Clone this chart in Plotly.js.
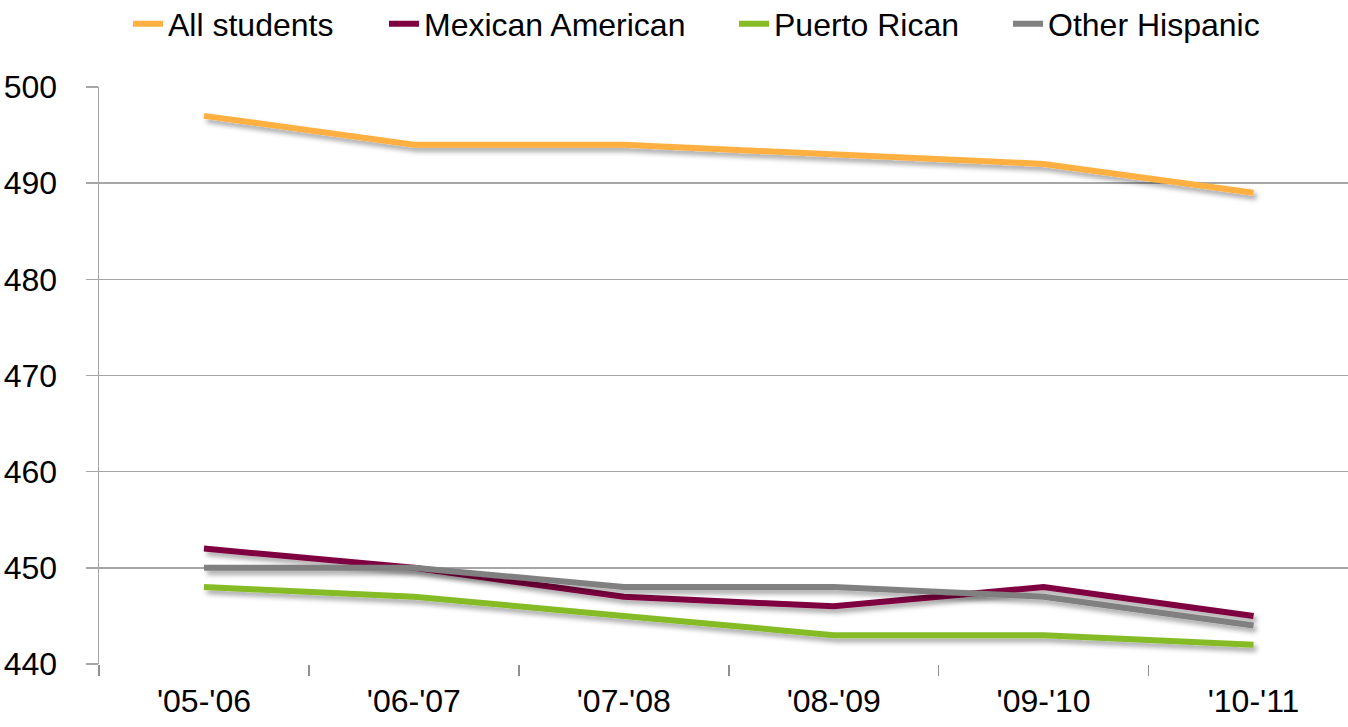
<!DOCTYPE html>
<html>
<head>
<meta charset="utf-8">
<script src="https://cdn.plot.ly/plotly-3.0.1.min.js"></script>
<style>
html, body { margin: 0; padding: 0; background: #fff; }
#chart { width: 1348px; height: 727px; }
</style>
</head>
<body>
<div id="chart"></div>
<script>
const years = ["'05-'06", "'06-'07", "'07-'08", "'08-'09", "'09-'10", "'10-'11"];
const seriesNames = ['All students', 'Mexican American', 'Puerto Rican', 'Other Hispanic'];
const allStudents = [497, 494, 494, 493, 492, 489];
const mexicanAmerican = [452, 450, 447, 446, 448, 445];
const puertoRican = [448, 447, 445, 443, 443, 442];
const otherHispanic = [450, 450, 448, 448, 447, 444];
const yTicks = [440, 450, 460, 470, 480, 490, 500];

const FONT = '"Liberation Sans", Arial, sans-serif';
const W = 1348, H = 727;

function series(name, y, color, legendId) {
  return {
    type: 'scatter', mode: 'lines', name: name, x: years, y: y,
    line: { color: color, width: 6 }, legend: legendId
  };
}

const data = [
  series(seriesNames[0], allStudents, '#FFB041', 'legend'),
  series(seriesNames[1], mexicanAmerican, '#7F0040', 'legend2'),
  series(seriesNames[2], puertoRican, '#85BC26', 'legend3'),
  series(seriesNames[3], otherHispanic, '#808080', 'legend4')
];

function legendAt(px) {
  return {
    orientation: 'h', xref: 'container', yref: 'container',
    x: px / W, xanchor: 'left', y: 1 - 24 / H, yanchor: 'middle',
    font: { family: FONT, size: 32, color: '#000' },
    bgcolor: 'rgba(0,0,0,0)'
  };
}

const layout = {
  width: W, height: H,
  margin: { l: 99, r: 0, t: 87, b: 63 },
  paper_bgcolor: '#ffffff', plot_bgcolor: '#ffffff',
  font: { family: FONT, size: 32, color: '#000' },
  showlegend: true,
  legend: legendAt(128),
  legend2: legendAt(384),
  legend3: legendAt(734),
  legend4: legendAt(1008),
  xaxis: {
    type: 'category', range: [-0.5, 5.45],
    showgrid: false, zeroline: false,
    showline: false,
    ticks: 'outside', tickson: 'boundaries', ticklen: 11, tickwidth: 1.5, tickcolor: '#909090',
    ticklabelstandoff: 15,
    tickfont: { family: FONT, size: 32, color: '#000' },
    fixedrange: true
  },
  yaxis: {
    range: [440, 500], tickvals: yTicks,
    showgrid: true, gridcolor: '#A6A6A6', gridwidth: 1.5,
    zeroline: false,
    showline: true, linecolor: '#A6A6A6', linewidth: 1.5,
    ticks: 'outside', ticklen: 12, tickwidth: 1.5, tickcolor: '#A6A6A6',
    ticklabelstandoff: 22,
    tickfont: { family: FONT, size: 32, color: '#000' },
    fixedrange: true
  }
};

function addShadow(gd) {
  const svg = gd.querySelector('svg.main-svg');
  if (!svg) return;
  const ns = 'http://www.w3.org/2000/svg';
  let defs = svg.querySelector('defs');
  if (!defs) { defs = document.createElementNS(ns, 'defs'); svg.insertBefore(defs, svg.firstChild); }
  const f = document.createElementNS(ns, 'filter');
  f.setAttribute('id', 'lineShadow');
  f.setAttribute('x', '-10%'); f.setAttribute('y', '-50%');
  f.setAttribute('width', '130%'); f.setAttribute('height', '250%');
  f.setAttribute('filterUnits', 'objectBoundingBox');
  const ds = document.createElementNS(ns, 'feDropShadow');
  ds.setAttribute('dx', '3'); ds.setAttribute('dy', '4');
  ds.setAttribute('stdDeviation', '2.5');
  ds.setAttribute('flood-color', '#000'); ds.setAttribute('flood-opacity', '0.35');
  f.appendChild(ds);
  defs.appendChild(f);
  gd.querySelectorAll('.scatterlayer .trace path.js-line').forEach(p => p.setAttribute('filter', 'url(#lineShadow)'));
}

Plotly.newPlot('chart', data, layout, { displayModeBar: false, staticPlot: true }).then(addShadow);
</script>
</body>
</html>
